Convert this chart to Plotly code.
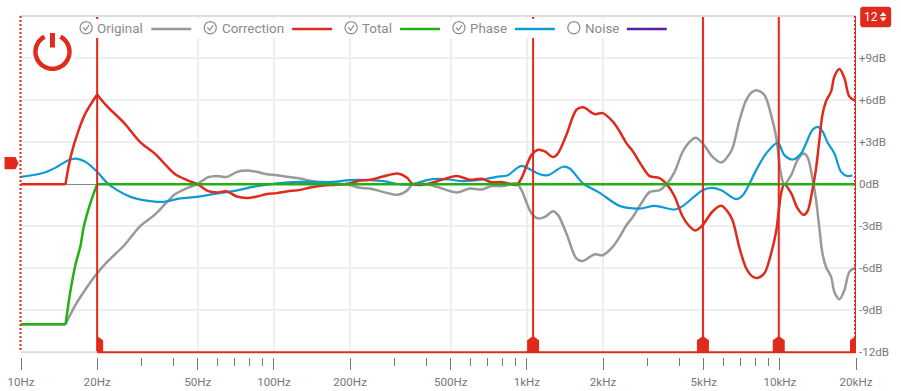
import math
import plotly.graph_objects as go

# ---- data ----
original_hz = [10, 15, 16.4, 18.25, 20, 21.9, 25.6, 29.6, 34, 37.8, 40.7, 45.3, 50.2, 55, 59.5, 65.2, 71.4, 78.2, 85.6, 93.7,
               102.7, 112.4, 126.9, 139, 156.4, 177, 200, 219, 240, 270, 309, 335, 354, 388, 440, 527, 595, 662, 725, 803, 910, 952,
               1043, 1107, 1177, 1269, 1328, 1433, 1570, 1667, 1854, 1994, 2183, 2327, 2473, 2619, 2834, 3056, 3347, 3600, 3837,
               4126, 4397, 4643, 4949, 5419, 5866, 6210, 6500, 6928, 7362, 7795, 8155, 8689, 9238, 9668, 10120, 10420, 11080,
               11740, 12390, 12850, 13450, 13910, 14330, 14730, 15240, 15950, 16430, 17200, 17990, 18830, 20000]
original_db = [-10, -10, -8.64, -7.34, -6.36, -5.55, -4.36, -3.0, -2.14, -1.26, -0.71, -0.29, 0.04, 0.5, 0.59, 0.52, 0.88, 0.98, 0.88, 0.71,
               0.64, 0.52, 0.41, 0.24, 0.09, 0.05, -0.07, -0.26, -0.31, -0.55, -0.76, -0.48, 0, 0.05, -0.19, -0.59, -0.31, -0.38, -0.14, -0.14, 0.05, -0.43,
               -2.09, -2.45, -2.34, -1.93, -2.21, -3.52, -5.31, -5.48, -5.0, -5.07, -4.48, -3.76, -2.93, -2.36, -1.36, -0.57, -0.43, 0.09, 0.88,
               2.31, 3.02, 3.31, 2.93, 1.95, 1.55, 1.95, 2.57, 4.57, 6.0, 6.59, 6.69, 6.36, 4.93, 3.38, 0.64, 0, 0.64,
               1.71, 2.19, 1.95, 0.43, -1.14, -3.14, -4.93, -5.93, -6.62, -7.69, -8.21, -7.57, -6.26, -5.93]
correction_hz = [10, 15, 15.7, 16.9, 18, 20, 21.9, 25.6, 29.6, 34, 37.8, 40.7, 45.3, 50.2, 55, 59.5, 65.2, 71.4, 78.2, 85.6, 93.7,
                 102.7, 112.4, 126.9, 139, 156.4, 177, 200, 219, 240, 270, 309, 335, 354, 388, 440, 527, 595, 662, 725, 803, 910, 952,
                 1043, 1107, 1177, 1269, 1328, 1433, 1570, 1667, 1854, 1994, 2183, 2327, 2473, 2619, 2834, 3056, 3347, 3600, 3837,
                 4126, 4397, 4643, 4949, 5419, 5866, 6210, 6500, 6928, 7362, 7795, 8155, 8689, 9238, 9668, 10120, 10420, 11080,
                 11740, 12390, 12850, 13450, 13910, 14330, 14730, 15240, 15950, 16430, 17200, 17990, 18830, 20000]
correction_db = [0, 0, 1.93, 3.86, 5.07, 6.4, 5.55, 4.36, 3.0, 2.14, 1.26, 0.71, 0.29, -0.04, -0.5, -0.59, -0.52, -0.88, -0.98, -0.88, -0.71,
                 -0.64, -0.52, -0.41, -0.24, -0.09, -0.05, 0.07, 0.26, 0.31, 0.55, 0.76, 0.48, 0, -0.05, 0.19, 0.59, 0.31, 0.38, 0.14, 0.14, -0.05, 0.43,
                 2.09, 2.45, 2.34, 1.93, 2.21, 3.52, 5.31, 5.48, 5.0, 5.07, 4.48, 3.76, 2.93, 2.36, 1.36, 0.57, 0.43, -0.09, -0.88,
                 -2.31, -3.02, -3.31, -2.93, -1.95, -1.55, -1.95, -2.57, -4.57, -6.0, -6.59, -6.69, -6.36, -4.93, -3.38, -0.64, 0, -0.64,
                 -1.71, -2.19, -1.95, -0.43, 1.14, 3.14, 4.93, 5.93, 6.62, 7.69, 8.21, 7.57, 6.26, 5.93]
total_hz = [10, 15, 15.7, 16.4, 17.2, 17.7, 18.8, 20, 20000]
total_db = [-10, -10, -7.57, -5.79, -4.36, -3.05, -1.36, 0, 0]
phase_hz = [10, 12.3, 13.9, 15.4, 16.7, 18, 20, 21.9, 24, 27.1, 30.4, 36.6, 42.6, 49.6, 57.5, 69, 82.8, 102.7, 126.9, 147.7, 171.3, 200,
            270, 312, 354, 401.5, 453, 496, 558, 670, 759, 841, 910, 952, 1027, 1124, 1213, 1390, 1477, 1667, 1940, 2327, 2790, 3198, 3837,
            4126, 4949, 5356, 5866, 6722, 7136, 8063, 8829, 9811, 10420, 11250, 12130, 13450, 14110, 14770, 15460, 16430, 17460, 18540, 19350]
phase_db = [0.52, 0.81, 1.24, 1.71, 1.81, 1.59, 0.88, 0.09, -0.43, -0.91, -1.14, -1.26, -1.02, -0.91, -0.71, -0.5, -0.19, 0.05, 0.16, 0.16, 0.16, 0.29,
            0.21, 0, -0.02, 0.29, 0.38, 0.33, 0.21, 0.33, 0.52, 0.64, 1.12, 1.31, 1.07, 0.71, 0.64, 1.24, 1.12, 0.05, -0.62, -1.55, -1.74, -1.55, -1.81,
            -1.57, -0.43, -0.26, -0.43, -1.07, -0.79, 1.0, 2.19, 2.95, 2.07, 1.76, 2.19, 3.86, 4.09, 3.74, 2.95, 2.19, 0.88, 0.57, 0.64]
band_hz = [20, 1058, 4965, 9900, 20000]

major_hz = [10, 20, 50, 100, 200, 500, 1000, 2000, 5000, 10000, 20000]
major_labels = ["10Hz", "20Hz", "50Hz", "100Hz", "200Hz", "500Hz", "1kHz", "2kHz", "5kHz", "10kHz", "20kHz"]
minor_hz = [30, 40, 60, 70, 80, 90, 300, 400, 600, 700, 800, 900, 3000, 4000, 6000, 7000, 8000, 9000]
db_ticks = [-12, -9, -6, -3, 0, 3, 6, 9]
db_labels = ["-12dB", "-9dB", "-6dB", "-3dB", "0dB", "+3dB", "+6dB", "+9dB"]

legend_names = ["Original", "Correction", "Total", "Phase", "Noise"]
legend_checked = [True, True, True, True, False]

# ---- style ----
W, H = 901, 391
L, R, T, AX = 20.5, 856.5, 16, 356.7
BOT = 352
GRAY, RED, GREEN, BLUE, PURPLE = "#999999", "#e02a1c", "#22b014", "#0f9ad6", "#5b1fa0"
legend_colors = [GRAY, RED, GREEN, BLUE, PURPLE]
legend_icon_x = [85.7, 210, 351, 459, 574]
legend_text_x = [95, 220, 360.3, 468.3, 583.3]
legend_line_x = [151, 292, 400, 515, 627]
TXT = "#8a8a8a"


def X(px):
    return (px - L) / (R - L)


def Y(py):
    return (AX - py) / (AX - T)


def hz_px(f):
    return L + (math.log10(f) - 1) / (math.log10(20000) - 1) * (R - L)


def path(pts, close=False):
    s = "M" + " L".join(f"{X(a):.5f},{Y(b):.5f}" for a, b in pts)
    return s + (" Z" if close else "")


def arc(cx, cy, r, a0, a1, n=60):
    return [(cx + r * math.sin(math.radians(a0 + (a1 - a0) * i / n)),
             cy - r * math.cos(math.radians(a0 + (a1 - a0) * i / n))) for i in range(n + 1)]


def pshape(pts, close=False, fill=None, color=None, width=0, dash=None):
    d = dict(type="path", xref="paper", yref="paper", layer="above", path=path(pts, close),
             line=dict(color=color or "rgba(0,0,0,0)", width=width))
    if dash:
        d["line"]["dash"] = dash
    if fill:
        d["fillcolor"] = fill
    return d


fig = go.Figure()
lw = 2.5


def curve(xs, ys, name, color, width):
    fig.add_trace(go.Scatter(x=xs, y=ys, name=name, mode="lines",
                             line=dict(color=color, width=width, shape="spline", smoothing=0.9)))


curve(original_hz[:2], original_db[:2], "Original", GRAY, lw)
curve(original_hz[1:], original_db[1:], "Original", GRAY, lw)
curve(phase_hz, phase_db, "Phase", BLUE, 2.2)
curve(correction_hz[:2], correction_db[:2], "Correction", RED, lw)
curve(correction_hz[1:6], correction_db[1:6], "Correction", RED, lw)
curve(correction_hz[5:], correction_db[5:], "Correction", RED, lw)
curve(total_hz[:2], total_db[:2], "Total", GREEN, lw)
curve(total_hz[1:8], total_db[1:8], "Total", GREEN, lw)
curve(total_hz[7:], total_db[7:], "Total", GREEN, lw)
for f in band_hz:
    fig.add_trace(go.Scatter(x=[f, f], y=[-12, 12], mode="lines", showlegend=False, hoverinfo="skip",
                             line=dict(color=RED, width=2)))

shapes = []
# frame
shapes.append(pshape([(L, T), (R, T)], color="#dddddd", width=2))
shapes.append(pshape([(L, BOT), (hz_px(band_hz[0]), BOT)], color="#dddddd", width=2))
shapes.append(pshape([(hz_px(band_hz[0]), BOT), (R, BOT)], color=RED, width=2))
shapes.append(pshape([(20, T), (20, BOT - 2)], color=RED, width=2, dash="2px,2px"))
shapes.append(pshape([(855.5, T), (855.5, BOT)], color=RED, width=2, dash="2px,2px"))
# white legend backing + power backing
shapes.append(pshape([(78, 19), (672, 19), (672, 38), (78, 38)], True, fill="white"))
shapes.append(pshape([(31, 29), (74, 29), (74, 74), (31, 74)], True, fill="white"))
# power icon
shapes.append(pshape(arc(52, 51.7, 17, 28, 332), color=RED, width=4.5))
shapes.append(pshape([(52, 33), (52, 47.5)], color=RED, width=5))
# handles
for f in band_hz:
    c = hz_px(f)
    lo, hi = max(c - 6, hz_px(20)), min(c + 6, 856.2)
    pts = [(lo, BOT), (lo, 340), (max(lo, min(c, hi)), 335.7), (hi, 340), (hi, BOT)]
    shapes.append(pshape(pts, True, fill=RED))
# level handle
shapes.append(pshape([(4, 157), (15, 157), (18, 163), (15, 169), (4, 169)], True, fill=RED))
# badge
bx0, bx1, by0, by1, br = 860.7, 891.7, 6.7, 27.3, 3
shapes.append(dict(type="path", xref="paper", yref="paper", layer="above", fillcolor=RED, line=dict(width=0),
                   path=(f"M{X(bx0+br):.5f},{Y(by0):.5f} L{X(bx1-br):.5f},{Y(by0):.5f} Q{X(bx1):.5f},{Y(by0):.5f} {X(bx1):.5f},{Y(by0+br):.5f} "
                         f"L{X(bx1):.5f},{Y(by1-br):.5f} Q{X(bx1):.5f},{Y(by1):.5f} {X(bx1-br):.5f},{Y(by1):.5f} "
                         f"L{X(bx0+br):.5f},{Y(by1):.5f} Q{X(bx0):.5f},{Y(by1):.5f} {X(bx0):.5f},{Y(by1-br):.5f} "
                         f"L{X(bx0):.5f},{Y(by0+br):.5f} Q{X(bx0):.5f},{Y(by0):.5f} {X(bx0+br):.5f},{Y(by0):.5f} Z")))
shapes.append(pshape([(880.5, 16), (883.7, 12), (887, 16)], True, fill="white"))
shapes.append(pshape([(880.5, 17.5), (883.7, 21.5), (887, 17.5)], True, fill="white"))

annotations = []
for name, checked, col, ix, tx, lx in zip(legend_names, legend_checked, legend_colors, legend_icon_x, legend_text_x, legend_line_x):
    shapes.append(pshape(arc(ix, 27.7, 6, 0, 360), color=TXT, width=1.2))
    if checked:
        shapes.append(pshape([(ix - 3, 27.3), (ix - 0.5, 30.3), (ix + 3, 25)], color=TXT, width=1.2))
    shapes.append(pshape([(lx, 29), (lx + 40, 29)], color=col, width=2.5))
    annotations.append(dict(text=name, xref="paper", yref="paper", x=X(tx), y=Y(28.5), xanchor="left", yanchor="middle",
                            showarrow=False, font=dict(family="Roboto", size=13.4, color=TXT)))
annotations.append(dict(text="12", xref="paper", yref="paper", x=X(871.7), y=Y(17.3), xanchor="center", yanchor="middle",
                        showarrow=False, font=dict(family="Roboto", size=12, color="white")))

fig.update_layout(
    width=W, height=H, autosize=False, showlegend=False, paper_bgcolor="white", plot_bgcolor="white",
    margin=dict(l=L, r=W - R, t=T, b=H - AX, pad=0),
    shapes=shapes, annotations=annotations,
    font=dict(family="Roboto", size=11.6, color="#777777"),
    xaxis=dict(type="log", range=[1, math.log10(20000)], domain=[0, 1], anchor="free", position=0, automargin=False,
               tickmode="array", tickvals=major_hz, ticktext=major_labels, ticks="outside", ticklen=11.5, tickwidth=1,
               tickcolor="#777777", showgrid=True, gridcolor="#eeeeee", gridwidth=1.5, showline=False, zeroline=False,
               ticklabelstandoff=3,
               tickfont=dict(family="Roboto", size=11.6, color="#777777"),
               minor=dict(tickmode="array", tickvals=minor_hz, ticks="outside", ticklen=8, tickwidth=1,
                          tickcolor="#777777", showgrid=False)),
    yaxis=dict(range=[-12, 12], domain=[(AX - BOT) / (AX - T), 1], side="right", tickmode="array", tickvals=db_ticks,
               ticktext=db_labels, ticks="", showgrid=True, gridcolor="#eeeeee", gridwidth=1.5, showline=False, automargin=False,
               zeroline=True, zerolinecolor="#888888", zerolinewidth=1, anchor="x", ticklabelstandoff=2,
               tickfont=dict(family="Roboto", size=11.6, color="#777777")),
)

fig.write_html("out.html", config={"displayModeBar": False}, post_script="document.body.style.margin='0';")
